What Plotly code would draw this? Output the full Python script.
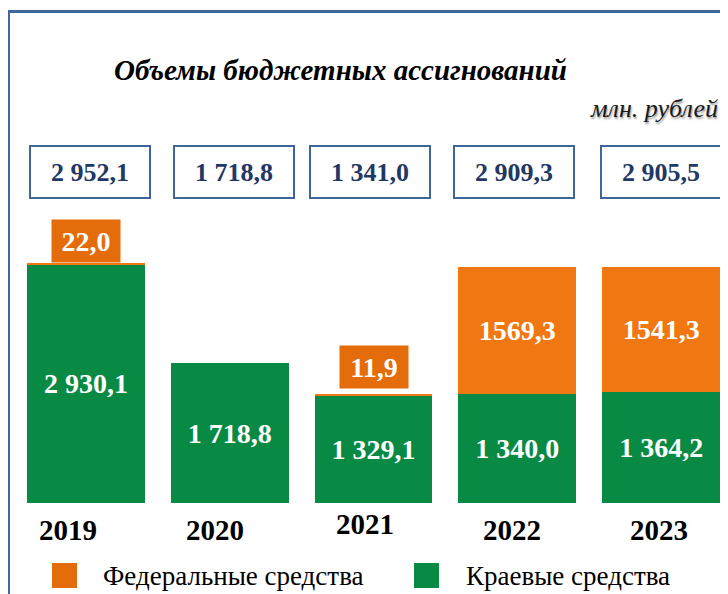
import plotly.graph_objects as go

# ---- data ----
years = ["2019", "2020", "2021", "2022", "2023"]
regional = [2930.1, 1718.8, 1329.1, 1340.0, 1364.2]   # Краевые средства
federal = [22.0, 0.0, 11.9, 1569.3, 1541.3]           # Федеральные средства
series_names = ["Федеральные средства", "Краевые средства"]
title_text = "Объемы бюджетных ассигнований"
unit_text = "млн. рублей"

GREEN = "#088A45"
ORANGE = "#F07712"
ORANGE_LBL = "#E46C0A"
FRAME = "#41679A"
NAVY = "#1F3864"
SERIF = "Liberation Serif, Times New Roman, serif"

OFF = 8  # page body margin offset
W, H = 728, 594
# plot area in screenshot pixels: x 14..728, y 200..503
L, T = 14 - OFF, 200 - OFF
R = W - (728 - OFF)
B = H - (503 - OFF)
PW, PH = W - L - R, H - T - B


def px(xs):
    return (xs - OFF - L) / PW


def py(ys):
    return (H - B - (ys - OFF)) / PH


def fmt_space(v):
    return f"{v:,.1f}".replace(",", " ").replace(".", ",")


def fmt_plain(v):
    return f"{v:.1f}".replace(".", ",")


totals = [r + f for r, f in zip(regional, federal)]
big_fed = [f >= 100 for f in federal]

fig = go.Figure()
fig.add_trace(go.Bar(
    x=years, y=regional, name=series_names[1], marker_color=GREEN,
    marker_line_width=0,
    text=[fmt_space(v) for v in regional], textposition="inside",
    insidetextanchor="middle",
    textfont=dict(family=SERIF, size=28, color="white", weight="bold"),
    showlegend=False,
))
fig.add_trace(go.Bar(
    x=years, y=federal, name=series_names[0], marker_color=ORANGE,
    marker_line_width=0,
    text=[fmt_plain(v) if b else "" for v, b in zip(federal, big_fed)],
    textposition="inside", insidetextanchor="middle",
    textfont=dict(family=SERIF, size=28, color="white", weight="bold"),
    showlegend=False,
))

annotations = []
shapes = []

# small federal labels above bars
small_shift = [0, 0, 5, 0, 0]
for i, (f, t, b, s) in enumerate(zip(federal, totals, big_fed, small_shift)):
    if f > 0 and not b:
        annotations.append(dict(
            x=i, y=t, xref="x", yref="y", yanchor="bottom", yshift=s,
            text=fmt_plain(f), showarrow=False, bgcolor=ORANGE_LBL,
            width=60, height=34, borderpad=4,
            font=dict(family=SERIF, size=28, color="white", weight="bold"),
        ))

# total boxes
box_shift = [4, 4, -4, -3, 0]
for i, (t, s) in enumerate(zip(totals, box_shift)):
    annotations.append(dict(
        x=i, y=py(172), xref="x", yref="paper", yanchor="middle",
        xshift=s, text=fmt_space(t), showarrow=False,
        bordercolor=FRAME, borderwidth=2, borderpad=2, bgcolor="white",
        width=114, height=46,
        font=dict(family=SERIF, size=26, color=NAVY, weight="bold"),
    ))

# year labels
year_shift = [-18, -15, -9, -5, -2]
year_y = [530, 530, 524, 530, 530]
for i, (yr, s, yy) in enumerate(zip(years, year_shift, year_y)):
    annotations.append(dict(
        x=i, y=py(yy), xref="x", yref="paper", yanchor="middle",
        xshift=s, text=yr, showarrow=False,
        font=dict(family=SERIF, size=29, color="black", weight="bold"),
    ))

# title & unit
annotations.append(dict(
    x=px(340), y=py(70), xref="paper", yref="paper", xanchor="center",
    yanchor="middle", text=title_text, showarrow=False,
    font=dict(family=SERIF, size=29, color="black", weight="bold",
              style="italic"),
))
annotations.append(dict(
    x=px(720), y=py(108), xref="paper", yref="paper", xanchor="right",
    yanchor="middle", text=unit_text, showarrow=False,
    font=dict(family=SERIF, size=26, color="#1a1a1a", style="italic",
              shadow="1px 2px 2px #999"),
))

# legend (manual)
legend_items = [(series_names[0], ORANGE_LBL, 52, 101),
                (series_names[1], GREEN, 414, 464)]
for name, col, sx, tx in legend_items:
    shapes.append(dict(type="rect", xref="paper", yref="paper",
                       x0=px(sx), x1=px(sx + 25), y0=py(588), y1=py(563),
                       fillcolor=col, line_width=0))
    annotations.append(dict(
        x=px(tx), y=py(576), xref="paper", yref="paper", xanchor="left",
        yanchor="middle", text=name, showarrow=False,
        font=dict(family=SERIF, size=27, color="black"),
    ))

# frame (left and top edges)
shapes.append(dict(type="line", xref="paper", yref="paper",
                   x0=px(8.5), x1=px(8.5), y0=py(620), y1=py(11.5),
                   line=dict(color=FRAME, width=3)))
shapes.append(dict(type="line", xref="paper", yref="paper",
                   x0=px(7), x1=px(760), y0=py(11.5), y1=py(11.5),
                   line=dict(color=FRAME, width=3)))

fig.update_layout(
    width=W, height=H, margin=dict(l=L, r=R, t=T, b=B),
    barmode="stack", bargap=0.18,
    paper_bgcolor="white", plot_bgcolor="white",
    xaxis=dict(type="category", range=[-0.5, 4.465], showticklabels=False,
               showgrid=False, zeroline=False, showline=False, ticks=""),
    yaxis=dict(range=[0, 3730], visible=False, showgrid=False),
    annotations=annotations, shapes=shapes,
    uniformtext=dict(mode="show", minsize=10),
    showlegend=False,
)

fig.write_html("out.html")
